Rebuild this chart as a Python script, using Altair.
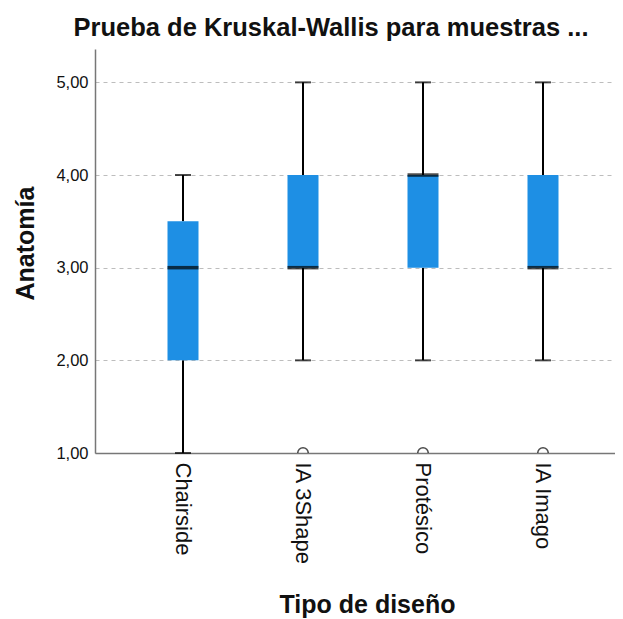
import altair as alt
import pandas as pd

categories = ["Chairside", "IA 3Shape", "Protésico", "IA Imago"]
mins = [1, 2, 2, 2]
q1s = [2, 3, 3, 3]
medians = [3, 3, 4, 3]
q3s = [3.5, 4, 4, 4]
maxs = [4, 5, 5, 5]
outlier_cats = ["IA 3Shape", "Protésico", "IA Imago"]
outlier_vals = [1, 1, 1]
y_ticks = [1, 2, 3, 4, 5]

FONT = "Liberation Sans"
BLUE = "#1E8FE4"

df = pd.DataFrame({"cat": categories, "lo": mins, "q1": q1s, "med": medians, "q3": q3s, "hi": maxs})
dfo = pd.DataFrame({"cat": outlier_cats, "v": outlier_vals})

xscale = alt.Scale(domain=categories, paddingInner=0, paddingOuter=1/6, align=0.7)
yscale = alt.Scale(domain=[1, 5.36], nice=False, zero=False)

x_enc = alt.X("cat:N", scale=xscale, sort=categories,
              axis=alt.Axis(title="Tipo de diseño", labelAngle=90, labelAlign="left",
                            labelBaseline="middle", labelPadding=9, ticks=False,
                            labelFontSize=22, labelColor="#111", labelFont=FONT,
                            titleFont=FONT, titleFontSize=25, titleFontWeight="bold",
                            titleColor="#111", titleX=272, titleY=159,
                            titleBaseline="alphabetic", titleAlign="center",
                            domainColor="#777", domainWidth=1.5, grid=False))

base = alt.Chart(df)

whisk_lo = base.mark_rule(color="black", strokeWidth=2).encode(
    x=x_enc,
    y=alt.Y("lo:Q", scale=yscale,
            axis=alt.Axis(title="Anatomía", values=y_ticks,
                          labelExpr="replace(format(datum.value, '.2f'), '.', ',')",
                          labelFontSize=16.5, labelFont=FONT, labelColor="#111",
                          labelPadding=7, ticks=False,
                          titleFont=FONT, titleFontSize=25, titleFontWeight="bold",
                          titleColor="#111", titleAngle=-90, titleX=-70, titleY=194,
                          titleAlign="center", titleBaseline="middle",
                          domainColor="#777", domainWidth=1.5,
                          grid=True, gridDash=[4, 4], gridColor="#bdbdbd", gridWidth=1.2)),
    y2="q1:Q")
whisk_hi = base.mark_rule(color="black", strokeWidth=2).encode(
    x=alt.X("cat:N", scale=xscale, sort=categories), y=alt.Y("q3:Q", scale=yscale), y2="hi:Q")
cap_lo = base.mark_tick(color="black", size=16, thickness=2).encode(
    x=alt.X("cat:N", scale=xscale, sort=categories), y=alt.Y("lo:Q", scale=yscale))
cap_hi = base.mark_tick(color="black", size=16, thickness=2).encode(
    x=alt.X("cat:N", scale=xscale, sort=categories), y=alt.Y("hi:Q", scale=yscale))
box = base.mark_bar(color=BLUE, size=31).encode(
    x=alt.X("cat:N", scale=xscale, sort=categories), y=alt.Y("q1:Q", scale=yscale), y2="q3:Q")
median = base.mark_tick(color="black", size=31, thickness=3.5).encode(
    x=alt.X("cat:N", scale=xscale, sort=categories), y=alt.Y("med:Q", scale=yscale))
outl = alt.Chart(dfo).mark_point(shape="M -1 0 A 1 1 0 0 1 1 0", filled=False, color="black",
                                 size=110, strokeWidth=1.5).encode(
    x=alt.X("cat:N", scale=xscale, sort=categories), y=alt.Y("v:Q", scale=yscale))

chart = alt.layer(whisk_lo, whisk_hi, cap_lo, cap_hi, box, median, outl).properties(
    width=520, height=404,
    autosize=alt.AutoSizeParams(type="none"),
    padding={"left": 87, "top": 41, "right": 0, "bottom": 166},
    title=alt.TitleParams("Prueba de Kruskal-Wallis para muestras ...", font=FONT,
                          fontSize=25.5, fontWeight="bold", color="#111", anchor="middle",
                          frame="group", dx=-24, dy=26, offset=14, baseline="alphabetic"),
).configure_view(stroke=None)

chart.save("out.html", embed_options={"renderer": "svg", "actions": False})
